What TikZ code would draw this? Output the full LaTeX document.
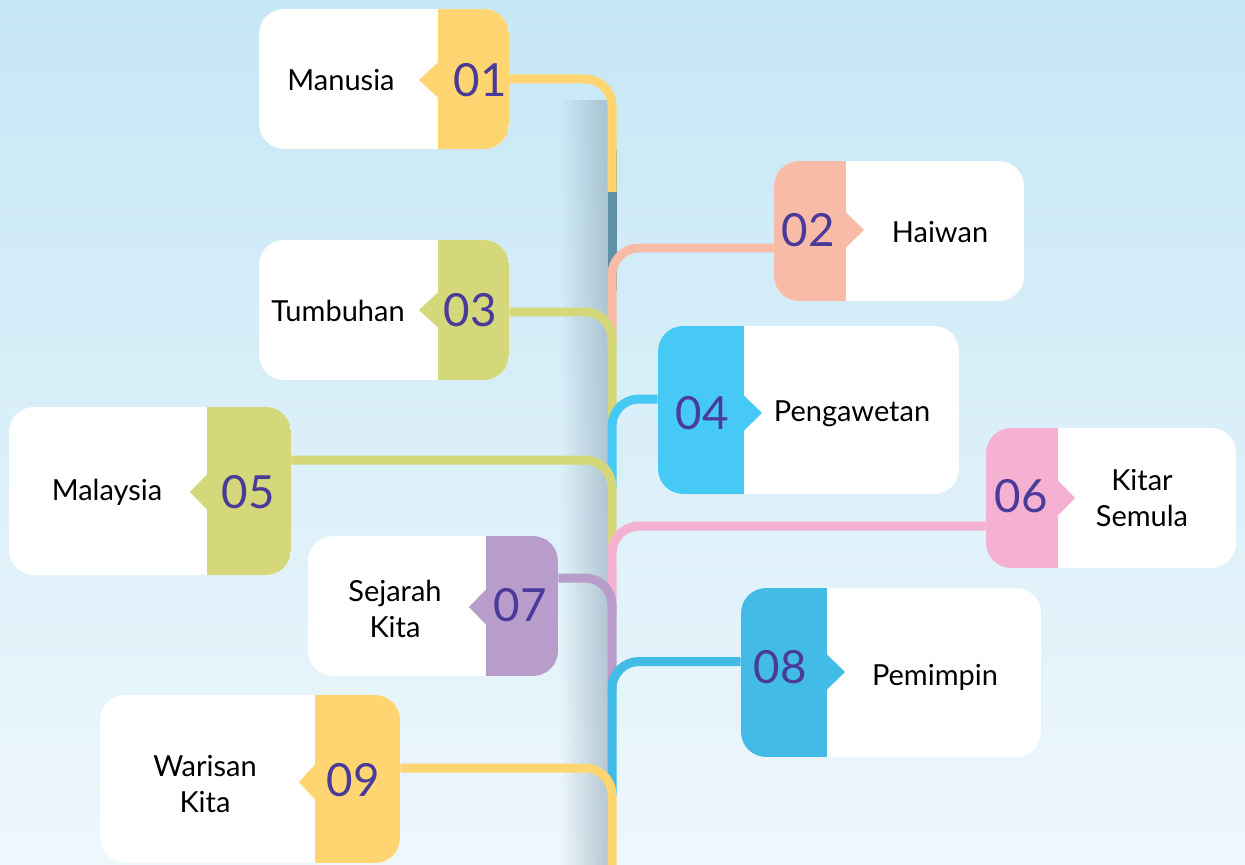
\documentclass[tikz,border=0pt]{standalone}
\usepackage{fontspec}
\setmainfont{Lato}
\usetikzlibrary{calc,fadings}
\definecolor{bgtop}{HTML}{C6E7F6}
\definecolor{bgbot}{HTML}{EEF7FC}
\definecolor{cyel}{HTML}{FFD572}
\definecolor{csalmon}{HTML}{F8BBA8}
\definecolor{clime}{HTML}{D4D87A}
\definecolor{csky}{HTML}{46C9F5}
\definecolor{cblue}{HTML}{42BCE6}
\definecolor{cpink}{HTML}{F5B1D2}
\definecolor{cpurple}{HTML}{B89CC9}
\definecolor{cteal}{HTML}{5F90A8}
\definecolor{numcol}{HTML}{4A3A99}
\definecolor{spineshade}{HTML}{8AA3B3}
\tikzfading[name=spinefade, left color=transparent!100, right color=transparent!45]
\pgfdeclarelayer{back}
\pgfdeclarelayer{wires}
\pgfsetlayers{back,wires,main}

\begin{document}
\begin{tikzpicture}[x=0.02cm, y=-0.02cm,
  card/.style={rectangle, rounded corners=0.5cm, inner sep=0pt, fill=white},
  tagR/.style 2 args={card, path picture={\fill[#1, sharp corners] ([xshift=-#2]path picture bounding box.north east) rectangle (path picture bounding box.south east);}},
  tagL/.style 2 args={card, path picture={\fill[#1, sharp corners] (path picture bounding box.north west) rectangle ([xshift=#2]path picture bounding box.south west);}},
  wire/.style={line width=0.18cm, rounded corners=0.54cm},
  lbl/.style={font=\fontsize{16.5}{20}\selectfont, align=center},
  num/.style={font=\fontsize{26}{30}\selectfont, text=numcol}]

\useasboundingbox (0,0) rectangle (1245,865);

% cards
\node[tagR={cyel}{1.42cm}, minimum width=5cm, minimum height=2.8cm] (b1) at (384,79) {};
\node[tagL={csalmon}{1.44cm}, minimum width=5cm, minimum height=2.8cm] (b2) at (899,231) {};
\node[tagR={clime}{1.42cm}, minimum width=5cm, minimum height=2.8cm] (b3) at (384,310) {};
\node[tagL={csky}{1.72cm}, minimum width=6.02cm, minimum height=3.36cm] (b4) at (808.5,410) {};
\node[tagR={clime}{1.68cm}, minimum width=5.64cm, minimum height=3.36cm] (b5) at (150,491) {};
\node[tagL={cpink}{1.44cm}, minimum width=5cm, minimum height=2.8cm] (b6) at (1111,498) {};
\node[tagR={cpurple}{1.44cm}, minimum width=5cm, minimum height=2.8cm] (b7) at (433,606) {};
\node[tagL={cblue}{1.72cm}, minimum width=6cm, minimum height=3.38cm] (b8) at (891,672.5) {};
\node[tagR={cyel}{1.7cm}, minimum width=6cm, minimum height=3.36cm] (b9) at (250,779) {};

% pointers
\fill[cyel] (438.5,62) -- (419,80) -- (438.5,98) -- cycle;
\fill[csalmon] (845.5,212) -- (864,230) -- (845.5,248) -- cycle;
\fill[clime] (438.5,292) -- (419,310) -- (438.5,328) -- cycle;
\fill[csky] (743.5,395) -- (762,413) -- (743.5,431) -- cycle;
\fill[clime] (207.5,474) -- (190,492) -- (207.5,510) -- cycle;
\fill[cpink] (1057.5,480) -- (1075,498) -- (1057.5,516) -- cycle;
\fill[cpurple] (486.5,589) -- (469,607) -- (486.5,625) -- cycle;
\fill[cblue] (826.5,654) -- (845,672) -- (826.5,690) -- cycle;
\fill[cyel] (315.5,764) -- (299,782) -- (315.5,800) -- cycle;

% texts
\node[lbl] (t1) at (341,80) {Manusia};
\node[num] (n1) at (480,80) {01};
\node[num] (n2) at (808,230) {02};
\node[lbl] (t2) at (940,232) {Haiwan};
\node[lbl] (t3) at (338,311) {Tumbuhan};
\node[num] (n3) at (470,310) {03};
\node[num] (n4) at (702,413) {04};
\node[lbl] (t4) at (852,414) {Pengawetan};
\node[lbl] (t5) at (107,492) {Malaysia};
\node[num] (n5) at (248,492) {05};
\node[num] (n6) at (1021,496) {06};
\node[lbl] (t6) at (1142,498) {Kitar\\Semula};
\node[lbl] (t7) at (395,609) {Sejarah\\Kita};
\node[num] (n7) at (520,605) {07};
\node[num] (n8) at (780,667) {08};
\node[lbl] (t8) at (935,677) {Pemimpin};
\node[lbl] (t9) at (205,784) {Warisan\\Kita};
\node[num] (n9) at (353,780) {09};

% ends on the spine
\coordinate (s1) at (612,192);
\coordinate (s2) at (612,340);
\coordinate (s3) at (612,425);
\coordinate (s4) at (612,488);
\coordinate (s5) at (612,552);
\coordinate (s6) at (612,610);
\coordinate (s7) at (612,690);
\coordinate (s8) at (612,795);
\coordinate (s9) at (612,865);

\begin{pgfonlayer}{back}
\shade[top color=bgtop, bottom color=bgbot] (0,0) rectangle (1245,865);
\fill[spineshade, path fading=spinefade] (560,100) rectangle (608,865);
\end{pgfonlayer}

\begin{pgfonlayer}{wires}
\draw[line width=0.18cm, cteal] (612,150) -- (612,290);
\draw[wire, cyel] (b1.east) -| (s1);
\draw[wire, csalmon] ($(b2.west)+(0,17)$) -| (s2);
\draw[wire, clime] ($(b3.east)+(0,2)$) -| (s3);
\draw[wire, csky] ($(b4.west)+(0,-11)$) -| (s4);
\draw[wire, clime] ($(b5.east)+(0,-31)$) -| (s5);
\draw[wire, cpink] ($(b6.west)+(0,28)$) -| (s6);
\draw[wire, cpurple] ($(b7.east)+(0,-28)$) -| (s7);
\draw[wire, cblue] ($(b8.west)+(0,-11)$) -| (s8);
\draw[wire, cyel] ($(b9.east)+(0,-11)$) -| (s9);
\end{pgfonlayer}

\end{tikzpicture}
\end{document}
